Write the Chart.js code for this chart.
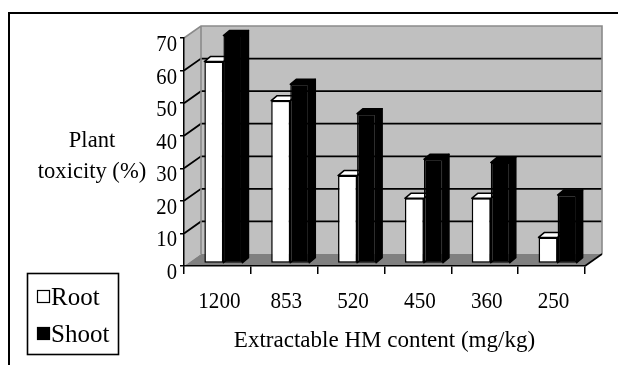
<!DOCTYPE html>
<html>
<head>
<meta charset="utf-8">
<script src="https://cdn.jsdelivr.net/npm/chart.js@4/dist/chart.umd.min.js"></script>
<style>
  html, body { margin: 0; padding: 0; background: #ffffff; }
  canvas { display: block; }
</style>
</head>
<body>
<canvas id="chart" width="618" height="365"></canvas>
<script>
// Plant toxicity (%) of root and shoot by extractable heavy-metal content
const categories = ['1200', '853', '520', '450', '360', '250'];
const rootValues = [62, 50, 27, 20, 20, 8];
const shootValues = [70, 55, 46, 32, 31, 21];
const seriesNames = ['Root', 'Shoot'];
const yTitleLines = ['Plant', 'toxicity (%)'];
const xTitle = 'Extractable HM content (mg/kg)';

const SERIF = "'Liberation Serif', 'Times New Roman', serif";
const WALL_DX = 17, WALL_DY = -12;   // depth of the back wall
const BAR_DX = 6, BAR_DY = -5;       // depth of each bar
const BAR_SHIFT_X = 6, BAR_SHIFT_Y = -2.5; // bars sit a little behind the front edge

// Text squeezed horizontally, like a narrow serif face
function narrowText(ctx, text, x, y, align, sx) {
  ctx.save();
  ctx.translate(x, y);
  ctx.scale(sx, 1);
  ctx.textAlign = align;
  ctx.fillText(text, 0, 0);
  ctx.restore();
}

// Back wall, side wall, floor and gridlines of the 3-D plot box
const wallPlugin = {
  id: 'wall3d',
  beforeDraw(chart) {
    const { ctx, chartArea: a, scales: { y } } = chart;
    ctx.save();
    ctx.fillStyle = '#ffffff';
    ctx.fillRect(0, 0, chart.width, chart.height);

    // outer frame
    ctx.strokeStyle = '#000000';
    ctx.lineWidth = 2;
    ctx.beginPath();
    ctx.moveTo(9, chart.height + 5);
    ctx.lineTo(9, 13);
    ctx.lineTo(chart.width + 5, 13);
    ctx.stroke();

    const L = a.left, R = a.right, T = a.top, B = a.bottom;
    const dx = WALL_DX, dy = WALL_DY;

    // side wall
    ctx.fillStyle = '#c0c0c0';
    ctx.beginPath();
    ctx.moveTo(L, B); ctx.lineTo(L, T); ctx.lineTo(L + dx, T + dy); ctx.lineTo(L + dx, B + dy);
    ctx.closePath(); ctx.fill();
    // back wall
    ctx.fillRect(L + dx, T + dy, R - L, B - T);
    // floor
    ctx.fillStyle = '#808080';
    ctx.beginPath();
    ctx.moveTo(L, B); ctx.lineTo(R, B); ctx.lineTo(R + dx, B + dy); ctx.lineTo(L + dx, B + dy);
    ctx.closePath(); ctx.fill();

    // gridlines
    ctx.strokeStyle = '#000000';
    ctx.lineWidth = 1.8;
    y.ticks.forEach(t => {
      if (t.value <= y.min || t.value >= y.max) return;
      const py = y.getPixelForValue(t.value);
      ctx.beginPath();
      ctx.moveTo(L, py);
      ctx.lineTo(L + dx, py + dy);
      ctx.lineTo(R + dx, py + dy);
      ctx.stroke();
    });

    // wall edges
    ctx.strokeStyle = '#8a8a8a';
    ctx.lineWidth = 1.6;
    ctx.beginPath();
    ctx.moveTo(L, T);
    ctx.lineTo(L + dx, T + dy);
    ctx.lineTo(R + dx, T + dy);
    ctx.lineTo(R + dx, B + dy);
    ctx.moveTo(L + dx, T + dy);
    ctx.lineTo(L + dx, B + dy);
    ctx.stroke();

    // floor right edge
    ctx.strokeStyle = '#000000';
    ctx.lineWidth = 1.6;
    ctx.beginPath();
    ctx.moveTo(R, B);
    ctx.lineTo(R + dx, B + dy);
    ctx.stroke();
    ctx.restore();
  }
};

// Top and side faces of each bar; the front faces are the library's bars
const barDepthPlugin = {
  id: 'barDepth',
  beforeDatasetsDraw(chart) {
    const ctx = chart.ctx;
    ctx.save();
    ctx.translate(BAR_SHIFT_X, BAR_SHIFT_Y);
    const metas = chart.data.datasets.map((d, i) => chart.getDatasetMeta(i));
    const n = chart.data.labels.length;
    for (let i = 0; i < n; i++) {
      metas.forEach((meta, di) => {
        const el = meta.data[i];
        const p = el.getProps(['x', 'y', 'base', 'width'], true);
        const x0 = p.x - p.width / 2, x1 = p.x + p.width / 2;
        const top = Math.min(p.y, p.base), bot = Math.max(p.y, p.base);
        const ds = chart.data.datasets[di];
        ctx.fillStyle = ds.backgroundColor;
        ctx.strokeStyle = '#000000';
        ctx.lineWidth = 1.5;
        ctx.lineJoin = 'round';
        // side face
        ctx.beginPath();
        ctx.moveTo(x1, top); ctx.lineTo(x1 + BAR_DX, top + BAR_DY);
        ctx.lineTo(x1 + BAR_DX, bot + BAR_DY); ctx.lineTo(x1, bot);
        ctx.closePath(); ctx.fill(); ctx.stroke();
        // top face
        ctx.beginPath();
        ctx.moveTo(x0, top); ctx.lineTo(x0 + BAR_DX, top + BAR_DY);
        ctx.lineTo(x1 + BAR_DX, top + BAR_DY); ctx.lineTo(x1, top);
        ctx.closePath(); ctx.fill(); ctx.stroke();
      });
    }
  },
  afterDatasetsDraw(chart) {
    chart.ctx.restore();
  }
};

// Tick labels, axis titles and boxed legend
const textPlugin = {
  id: 'texts',
  afterDraw(chart) {
    const { ctx, chartArea: a, scales: { x, y } } = chart;
    ctx.save();
    ctx.fillStyle = '#000000';
    ctx.textBaseline = 'alphabetic';

    // tick labels
    ctx.font = '24px ' + SERIF;
    y.ticks.forEach((t, i) => {
      narrowText(ctx, String(t.label), a.left - 7, y.getPixelForTick(i) + 13, 'right', 0.86);
    });
    x.ticks.forEach((t, i) => {
      narrowText(ctx, String(t.label), x.getPixelForTick(i) + 2, 308, 'center', 0.88);
    });

    // axis titles
    ctx.font = '24px ' + SERIF;
    narrowText(ctx, yTitleLines[0], 92, 147, 'center', 0.94);
    narrowText(ctx, yTitleLines[1], 92, 178, 'center', 0.94);
    narrowText(ctx, xTitle, (a.left + a.right) / 2, 347, 'center', 0.96);

    // legend
    ctx.strokeStyle = '#000000';
    ctx.lineWidth = 1.6;
    ctx.strokeRect(27.5, 273.5, 91, 81);
    ctx.font = '25px ' + SERIF;
    const rows = [305, 342];
    chart.data.datasets.forEach((ds, i) => {
      const yb = rows[i];
      ctx.fillStyle = ds.backgroundColor;
      ctx.fillRect(37.5, yb - 14.5, 12, 12);
      ctx.lineWidth = 1.2;
      ctx.strokeRect(37.5, yb - 14.5, 12, 12);
      ctx.fillStyle = '#000000';
      narrowText(ctx, ds.label, 51, yb, 'left', 1.0);
    });
    ctx.restore();
  }
};

new Chart(document.getElementById('chart'), {
  type: 'bar',
  data: {
    labels: categories,
    datasets: [
      { label: seriesNames[0], data: rootValues, backgroundColor: '#ffffff',
        borderColor: '#000000', borderWidth: 1.5, borderSkipped: false, clip: false },
      { label: seriesNames[1], data: shootValues, backgroundColor: '#000000',
        borderColor: '#000000', borderWidth: 1.5, borderSkipped: false, clip: false }
    ]
  },
  options: {
    responsive: false,
    animation: false,
    devicePixelRatio: 1,
    layout: { padding: { left: 0, top: 38, right: 33, bottom: 0 } },
    datasets: { bar: { categoryPercentage: 0.57, barPercentage: 1.0 } },
    plugins: { legend: { display: false }, tooltip: { enabled: false } },
    scales: {
      x: {
        grid: { display: true, drawOnChartArea: false, drawTicks: true, tickLength: 8,
                color: '#000000', lineWidth: 1.5, offset: true },
        border: { display: true, color: '#000000', width: 1.5 },
        ticks: { display: false, maxRotation: 0 },
        afterFit(scale) { scale.height = 99; }
      },
      y: {
        min: 0, max: 70,
        grid: { display: true, drawOnChartArea: false, drawTicks: true, tickLength: 4,
                color: '#000000', lineWidth: 1.5 },
        border: { display: true, color: '#000000', width: 1.5 },
        ticks: { display: false, stepSize: 10 },
        afterFit(scale) { scale.width = 184; }
      }
    }
  },
  plugins: [wallPlugin, barDepthPlugin, textPlugin]
});
</script>
</body>
</html>
